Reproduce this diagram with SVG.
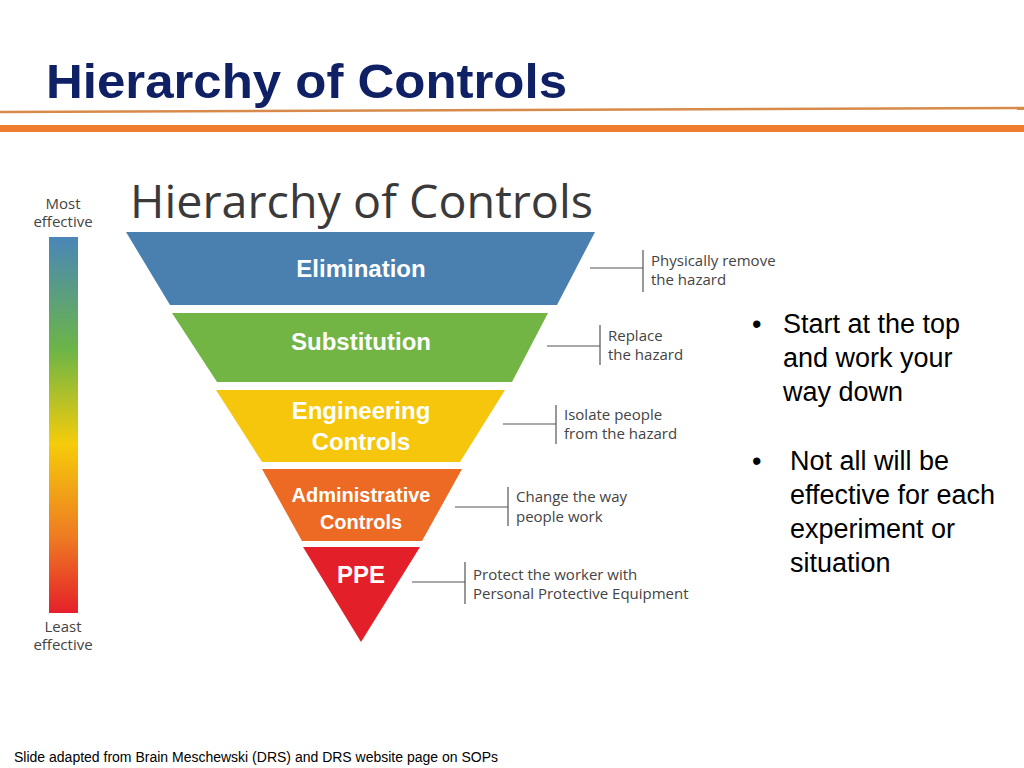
<svg xmlns="http://www.w3.org/2000/svg" width="1024" height="768" viewBox="0 0 1024 768">
<defs>
<linearGradient id="eff" x1="0" y1="0" x2="0" y2="1">
<stop offset="0" stop-color="#4a86b8"/><stop offset="0.3" stop-color="#6cb547"/><stop offset="0.55" stop-color="#f5cc0a"/><stop offset="0.8" stop-color="#ee7a22"/><stop offset="1" stop-color="#e5202a"/>
</linearGradient>
<style>
.lbl{font-family:"Liberation Sans",Arial,sans-serif;font-weight:bold;fill:#fff;text-anchor:middle}
.side{font-family:"Open Sans","DejaVu Sans",sans-serif;font-size:15px;fill:#444}
.con{stroke:#555;stroke-width:1.2;fill:none}
.bul{font-family:"Liberation Sans",Arial,sans-serif;font-size:27px;fill:#000}
</style>
</defs>
<rect width="1024" height="768" fill="#fff"/>
<text x="46" y="98" font-family="Liberation Sans,Arial,sans-serif" font-weight="bold" font-size="48" fill="#0f2064" textLength="521" lengthAdjust="spacingAndGlyphs">Hierarchy of Controls</text>
<line x1="0" y1="112" x2="1024" y2="108" stroke="#d88a4a" stroke-width="2.5"/>
<rect x="0" y="125" width="1024" height="7" fill="#ee7d2f"/>
<text x="130" y="218" font-family="Open Sans,DejaVu Sans,sans-serif" font-size="46" fill="#3a3a3a" textLength="463" lengthAdjust="spacingAndGlyphs">Hierarchy of Controls</text>
<text x="63" y="209" class="side" text-anchor="middle" font-size="14">Most</text>
<text x="63" y="227" class="side" text-anchor="middle" font-size="14">effective</text>
<rect x="49" y="237" width="29" height="376" fill="url(#eff)"/>
<text x="63" y="632" class="side" text-anchor="middle" font-size="14">Least</text>
<text x="63" y="650" class="side" text-anchor="middle" font-size="14">effective</text>
<g id="elimination"><polygon points="126,232 595,232 557,305 170,305" fill="#4a80b0"/><text x="361" y="277" class="lbl" font-size="24">Elimination</text></g>
<g id="substitution"><polygon points="172,313 548,313 512,382 217,382" fill="#72b544"/><text x="361" y="350" class="lbl" font-size="24">Substitution</text></g>
<g id="engineering"><polygon points="216,390 505,390 460,462 262,462" fill="#f5c60c"/><text x="361" y="419" class="lbl" font-size="24">Engineering</text><text x="361" y="450" class="lbl" font-size="24">Controls</text></g>
<g id="administrative"><polygon points="262,469 462,469 422,541 302,541" fill="#ec6a23"/><text x="361" y="502" class="lbl" font-size="20">Administrative</text><text x="361" y="529" class="lbl" font-size="20">Controls</text></g>
<g id="ppe"><polygon points="303,547 420,547 361,642" fill="#e3202a"/><text x="361" y="583" class="lbl" font-size="24">PPE</text></g>
<g id="connectors">
<path class="con" d="M590 268H643M643 250V292"/>
<path class="con" d="M547 346H600M600 325V365"/>
<path class="con" d="M503 424H556M556 405V444"/>
<path class="con" d="M455 507H508M508 487V526"/>
<path class="con" d="M412 582H465M465 562V604"/>
</g>
<text x="651" y="266" class="side">Physically remove</text><text x="651" y="285" class="side">the hazard</text>
<text x="608" y="341" class="side">Replace</text><text x="608" y="360" class="side">the hazard</text>
<text x="564" y="420" class="side">Isolate people</text><text x="564" y="439" class="side">from the hazard</text>
<text x="516" y="502" class="side">Change the way</text><text x="516" y="522" class="side">people work</text>
<text x="473" y="580" class="side">Protect the worker with</text><text x="473" y="599" class="side">Personal Protective Equipment</text>
<text x="752" y="333" class="bul">•</text>
<text x="783" y="333" class="bul">Start at the top</text><text x="783" y="367" class="bul">and work your</text><text x="783" y="401" class="bul">way down</text>
<text x="752" y="470" class="bul">•</text>
<text x="790" y="470" class="bul">Not all will be</text><text x="790" y="504" class="bul">effective for each</text><text x="790" y="538" class="bul">experiment or</text><text x="790" y="572" class="bul">situation</text>
<text x="14" y="762" font-family="Liberation Sans,Arial,sans-serif" font-size="14" fill="#000">Slide adapted from Brain Meschewski (DRS) and DRS website page on SOPs</text>
</svg>
